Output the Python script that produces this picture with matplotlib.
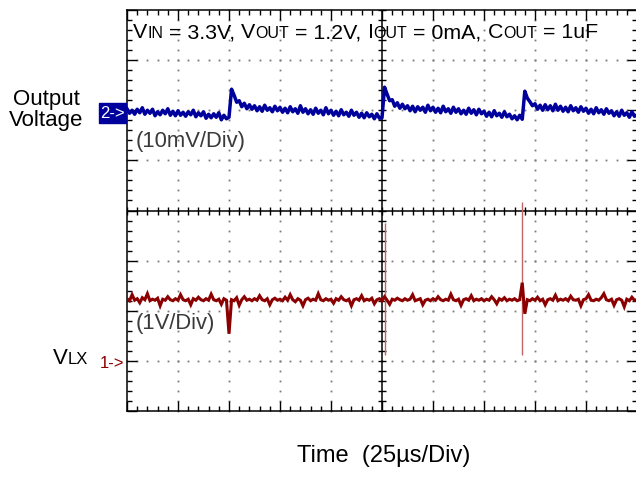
"""Tela de osciloscópio: ondulação de saída (CH2) e nó LX (CH1), 25us/div."""
import numpy as np
import matplotlib

matplotlib.use("Agg")
import matplotlib.pyplot as plt  # noqa: E402
from matplotlib.offsetbox import TextArea, HPacker, AnnotationBbox  # noqa: E402
from matplotlib.patches import Rectangle  # noqa: E402

W, H = 636, 478
FONTE = "Liberation Sans"
AZUL = "#00009c"
VERMELHO = "#8b0000"
VERMELHO_CLARO = "#c46464"
CINZA_TXT = "#3a3a3a"

# ---------------------------------------------------------------------------
# Dados (em divisões: tempo 0..10, tensão -4..4), amostras a cada 0.05 div
# ---------------------------------------------------------------------------
TEMPO = np.linspace(0, 10, 201)

CH2 = [
    2.03, 1.94, 2.00, 1.92, 2.02, 1.95, 2.05, 1.92, 2.00, 1.94,
    2.02, 1.89, 1.97, 1.91, 2.00, 1.93, 2.03, 1.90, 1.98, 1.89,
    1.99, 1.90, 1.96, 1.88, 1.97, 1.91, 2.00, 1.87, 1.95, 1.89,
    1.97, 1.84, 1.92, 1.85, 1.93, 1.86, 1.95, 1.81, 1.90, 1.83,
    1.86, 2.42, 2.30, 2.16, 2.19, 2.07, 2.14, 2.03, 2.11, 2.02,
    2.09, 1.99, 2.07, 1.98, 2.10, 2.00, 2.05, 1.97, 2.08, 1.99,
    2.06, 1.96, 2.04, 1.95, 2.07, 1.97, 2.03, 1.94, 2.09, 1.96,
    2.03, 1.93, 2.01, 1.92, 2.04, 1.94, 2.00, 1.91, 2.05, 1.93,
    2.00, 1.90, 1.98, 1.89, 2.01, 1.91, 1.96, 1.88, 2.00, 1.90,
    1.96, 1.86, 1.94, 1.85, 1.95, 1.87, 1.92, 1.83, 1.93, 1.84,
    1.85, 2.46, 2.32, 2.19, 2.21, 2.08, 2.15, 2.04, 2.12, 2.03,
    2.09, 1.99, 2.08, 1.97, 2.07, 2.00, 2.06, 1.96, 2.10, 1.99,
    2.06, 1.96, 2.04, 1.95, 2.08, 1.97, 2.03, 1.94, 2.06, 1.96,
    2.03, 1.93, 2.00, 1.92, 2.04, 1.94, 2.01, 1.91, 2.02, 1.93,
    1.98, 1.88, 1.96, 1.87, 1.99, 1.89, 1.94, 1.86, 1.97, 1.87,
    1.92, 1.83, 1.89, 1.81, 1.90, 1.82, 2.38, 2.24, 2.17, 2.09,
    2.13, 2.02, 2.10, 2.00, 2.11, 2.01, 2.09, 1.99, 2.12, 2.00,
    2.08, 1.98, 2.06, 1.97, 2.09, 1.99, 2.05, 1.96, 2.07, 1.98,
    2.04, 1.94, 2.02, 1.93, 2.05, 1.95, 2.01, 1.92, 2.03, 1.94,
    1.99, 1.89, 1.97, 1.88, 2.00, 1.90, 1.95, 1.86, 1.97, 1.88,
    1.91,
]

CH1 = [
    -1.76, -1.80, -1.68, -1.79, -1.76, -1.84, -1.74, -1.78, -1.66, -1.80,
    -1.77, -1.79, -1.75, -1.90, -1.77, -1.79, -1.72, -1.78, -1.80, -1.76,
    -1.79, -1.68, -1.78, -1.80, -1.77, -1.88, -1.76, -1.79, -1.73, -1.78,
    -1.80, -1.76, -1.79, -1.67, -1.78, -1.80, -1.77, -1.87, -1.76, -1.79,
    -2.46, -1.78, -1.80, -1.74, -1.89, -1.78, -1.72, -1.79, -1.77, -1.80,
    -1.76, -1.79, -1.70, -1.78, -1.80, -1.76, -1.88, -1.78, -1.75, -1.79,
    -1.77, -1.80, -1.73, -1.79, -1.68, -1.78, -1.82, -1.76, -1.79, -1.90,
    -1.78, -1.75, -1.80, -1.77, -1.79, -1.66, -1.78, -1.80, -1.76, -1.79,
    -1.77, -1.85, -1.76, -1.79, -1.72, -1.78, -1.80, -1.77, -1.90, -1.78,
    -1.76, -1.79, -1.70, -1.80, -1.77, -1.79, -1.75, -1.86, -1.78, -1.76,
    -1.80, -1.72, -1.79, -1.87, -1.77, -1.79, -1.75, -1.78, -1.80, -1.76,
    -1.79, -1.77, -1.68, -1.80, -1.78, -1.76, -1.88, -1.79, -1.77, -1.80,
    -1.76, -1.79, -1.72, -1.78, -1.80, -1.77, -1.79, -1.67, -1.78, -1.80,
    -1.77, -1.89, -1.78, -1.76, -1.79, -1.70, -1.80, -1.77, -1.79, -1.76,
    -1.80, -1.77, -1.79, -1.72, -1.78, -1.86, -1.76, -1.79, -1.74, -1.80,
    -1.77, -1.79, -1.76, -1.80, -1.78, -1.44, -2.06, -1.78, -1.80, -1.76,
    -1.79, -1.73, -1.80, -1.77, -1.88, -1.78, -1.76, -1.79, -1.69, -1.80,
    -1.77, -1.79, -1.76, -1.80, -1.71, -1.78, -1.79, -1.77, -1.90, -1.78,
    -1.76, -1.68, -1.79, -1.80, -1.77, -1.79, -1.74, -1.66, -1.78, -1.80,
    -1.77, -1.89, -1.78, -1.76, -1.79, -1.92, -1.77, -1.80, -1.73, -1.79,
    -1.78,
]

# picos finos de comutação no CH1
PICO_T = [5.05, 7.75]
PICO_TOPO = [-0.24, 0.16]
PICO_BASE = [-2.88, -2.88]


def fx(x):
    return x / W


def fy(y):
    return 1 - y / H


def texto_sub(fig, partes, x, y, tam, tam_sub, cor):
    filhos = [TextArea(s, textprops=dict(fontsize=tam_sub if sub else tam,
                                         family=FONTE, color=cor))
              for s, sub in partes]
    caixa = HPacker(children=filhos, align="baseline", pad=0, sep=0)
    ab = AnnotationBbox(caixa, (fx(x), fy(y)), xycoords="figure fraction",
                        frameon=False, box_alignment=(0, 0.5), pad=0)
    fig.add_artist(ab)


fig = plt.figure(figsize=(W / 100, H / 100), dpi=100)
ax = fig.add_axes([fx(127), fy(411), 510 / W, 401 / H])
ax.set_xlim(0, 10)
ax.set_ylim(-4, 4)

# moldura com marcas
for s in ax.spines.values():
    s.set_linewidth(1.1)
    s.set_color("black")
ax.set_xticks(np.arange(0, 11, 1))
ax.set_yticks(np.arange(-4, 5, 1))
ax.set_xticks(np.arange(0, 10.01, 0.2), minor=True)
ax.set_yticks(np.arange(-4, 4.01, 0.2), minor=True)
ax.tick_params(which="both", direction="in", top=True, right=True,
               labelbottom=False, labelleft=False, color="black", width=1.0)
ax.tick_params(which="major", length=7)
ax.tick_params(which="minor", length=3.8)

# grade pontilhada
pts_y = np.arange(-4, 4.01, 0.2)
pts_x = np.arange(0, 10.01, 0.2)
for gx in [1, 2, 3, 4, 6, 7, 8, 9]:
    ax.plot(np.full_like(pts_y, gx), pts_y, ls="", marker="s", ms=1.3,
            mew=0, color="#7a7a7a", zorder=1, clip_on=False)
for gy in [-3, -2, -1, 1, 2, 3]:
    ax.plot(pts_x, np.full_like(pts_x, gy), ls="", marker="s", ms=1.3,
            mew=0, color="#7a7a7a", zorder=1, clip_on=False)

# cruz central com marcas
ax.axhline(0, color="black", lw=1.1, zorder=2)
ax.axvline(5, color="black", lw=1.1, zorder=2)
ax.plot(pts_x, np.zeros_like(pts_x), ls="", marker="|", ms=6, mew=1.0,
        color="black", zorder=2)
ax.plot(np.full_like(pts_y, 5), pts_y, ls="", marker="_", ms=6, mew=1.0,
        color="black", zorder=2)

# traços
ax.plot(TEMPO, CH2, color=AZUL, lw=2.5, zorder=4)
ax.vlines(PICO_T, PICO_BASE, PICO_TOPO, color=VERMELHO_CLARO, lw=1.0, zorder=3)
ax.plot(TEMPO, CH1, color=VERMELHO, lw=2.2, zorder=4, solid_joinstyle="miter")

# textos
texto_sub(fig, [("V", 0), ("IN", 1), (" = 3.3V, ", 0), ("V", 0), ("OUT", 1),
                (" = 1.2V, ", 0), ("I", 0), ("OUT", 1), (" = 0mA, ", 0),
                ("C", 0), ("OUT", 1), (" = 1uF", 0)],
          133, 33, 15.4, 11.5, "black")
fig.text(fx(46), fy(110), "Output\nVoltage", ha="center", va="center",
         fontsize=16, family=FONTE, linespacing=1.05)
fig.patches.append(Rectangle((fx(99), fy(123)), 27 / W, 20 / H,
                             transform=fig.transFigure, color=AZUL))
fig.text(fx(112.5), fy(113), "2->", ha="center", va="center", fontsize=12,
         family=FONTE, color="white")
fig.text(fx(136), fy(142), "(10mV/Div)", ha="left", va="center",
         fontsize=15.8, family=FONTE, color=CINZA_TXT)
fig.text(fx(136), fy(323), "(1V/Div)", ha="left", va="center",
         fontsize=15.8, family=FONTE, color=CINZA_TXT)
texto_sub(fig, [("V", 0), ("LX", 1)], 53, 358, 16, 12, "black")
fig.text(fx(112), fy(363), "1->", ha="center", va="center", fontsize=12,
         family=FONTE, color=VERMELHO)
fig.text(fx(384), fy(456), "Time  (25\u00b5s/Div)", ha="center", va="center",
         fontsize=17, family=FONTE)

fig.savefig("out.png", dpi=100)
